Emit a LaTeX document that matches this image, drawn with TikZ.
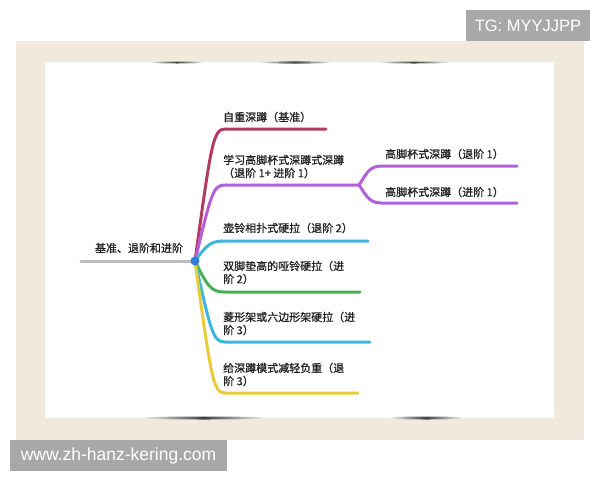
\documentclass[tikz,border=0pt]{standalone}
\usepackage{fontspec}
\setmainfont{Noto Sans CJK SC}
\newfontfamily\cjkmed[FakeBold=0.9]{Noto Sans CJK SC}
\newfontfamily\latinsans{Liberation Sans}
\definecolor{beigec}{HTML}{F1EADC}
\definecolor{wmgray}{HTML}{A8A8A8}
\definecolor{textc}{HTML}{222222}
\definecolor{redc}{HTML}{B33A63}
\definecolor{purplec}{HTML}{B260D6}
\definecolor{cyanc}{HTML}{3CB6DC}
\definecolor{greenc}{HTML}{4CAD57}
\definecolor{yellowc}{HTML}{E9CC3C}
\definecolor{grayc}{HTML}{BDBDBD}
\definecolor{hubc}{HTML}{2F7FD8}
\tikzset{
  branch/.style={line width=3pt, line cap=round, line join=round},
  lbl/.style={anchor=west, inner sep=0pt, font=\cjkmed\fontsize{11}{13}\selectfont, text=textc, align=left},
  wm/.style={fill=wmgray, text=white, font=\latinsans\fontsize{16.5}{16.5}\selectfont, inner sep=0pt},
  streak/.style={left color=white, right color=white, middle color=black!75}
}
\begin{document}
\begin{tikzpicture}[x=1pt,y=-1pt]
\useasboundingbox (0,0) rectangle (600,480);
\fill[white] (0,0) rectangle (600,480);
% frame
\fill[beigec] (16,41) rectangle (584,440);
\fill[white] (45,62) rectangle (554,418);
% shadows of the paper edge
\shade[streak] (177,62.5) ellipse (28 and 1);
\shade[streak] (295,62.5) ellipse (38 and 1.1);
\shade[streak] (414,62.5) ellipse (37 and 1);
\shade[streak] (204,418) ellipse (66 and 1.5);
\shade[streak] (426,418) ellipse (39 and 1.5);
% watermarks
\node[wm, minimum width=124pt, minimum height=31pt] (tg) at (528,25.5) {TG: MYYJJPP};
\node[wm, minimum width=217pt, minimum height=31pt] (url) at (118.5,455.5) {\fontsize{17.5}{17.5}\selectfont www.zh-hanz-kering.com};

% mind map
\coordinate (hubpt) at (195,261);
\coordinate (rootl) at (81,261);
\node[lbl, anchor=center] (root) at (139,248) {基准、退阶和进阶};
\draw[branch, grayc] (rootl) -- (hubpt);

% branch 1
\coordinate (e1) at (326,129);
\draw[branch, redc] (hubpt) .. controls (211,145) and (213,129) .. (225,129) -- (e1);
\node[lbl] (t1) at (223,117) {自重深蹲（基准）};
% branch 2
\coordinate (m2) at (359,185);
\draw[branch, purplec] (hubpt) .. controls (211,194) and (213,185) .. (225,185) -- (m2);
\node[lbl] (t2) at (223,166.5) {学习高脚杯式深蹲式深蹲\\（退阶 1+ 进阶 1）};
\coordinate (e2a) at (517,166);
\coordinate (e2b) at (517,203);
\draw[branch, purplec] (m2) .. controls (365,177) and (368,166) .. (381,166) -- (e2a);
\draw[branch, purplec] (m2) .. controls (365,193) and (368,203) .. (381,203) -- (e2b);
\node[lbl] (t2a) at (385,154) {高脚杯式深蹲（退阶 1）};
\node[lbl] (t2b) at (385,192) {高脚杯式深蹲（进阶 1）};
% branch 3
\coordinate (e3) at (368,241);
\draw[branch, cyanc] (hubpt) .. controls (208,243) and (212,241) .. (225,241) -- (e3);
\node[lbl] (t3) at (223,228) {壶铃相扑式硬拉（退阶 2）};
% branch 4
\coordinate (e4) at (360,292);
\draw[branch, greenc] (hubpt) .. controls (208,288) and (212,292) .. (225,292) -- (e4);
\node[lbl] (t4) at (223,272.5) {双脚垫高的哑铃硬拉（进\\阶 2）};
% branch 5
\coordinate (e5) at (370,342);
\draw[branch, cyanc] (hubpt) .. controls (211,332) and (213,342) .. (225,342) -- (e5);
\node[lbl] (t5) at (223,323.5) {菱形架或六边形架硬拉（进\\阶 3）};
% branch 6
\coordinate (e6) at (358,393);
\draw[branch, yellowc] (hubpt) .. controls (211,377) and (213,393) .. (225,393) -- (e6);
\node[lbl] (t6) at (223,374.5) {给深蹲模式减轻负重（退\\阶 3）};

\node[circle, fill=hubc, minimum size=9pt, inner sep=0pt] (hub) at (hubpt) {};
\end{tikzpicture}
\end{document}
